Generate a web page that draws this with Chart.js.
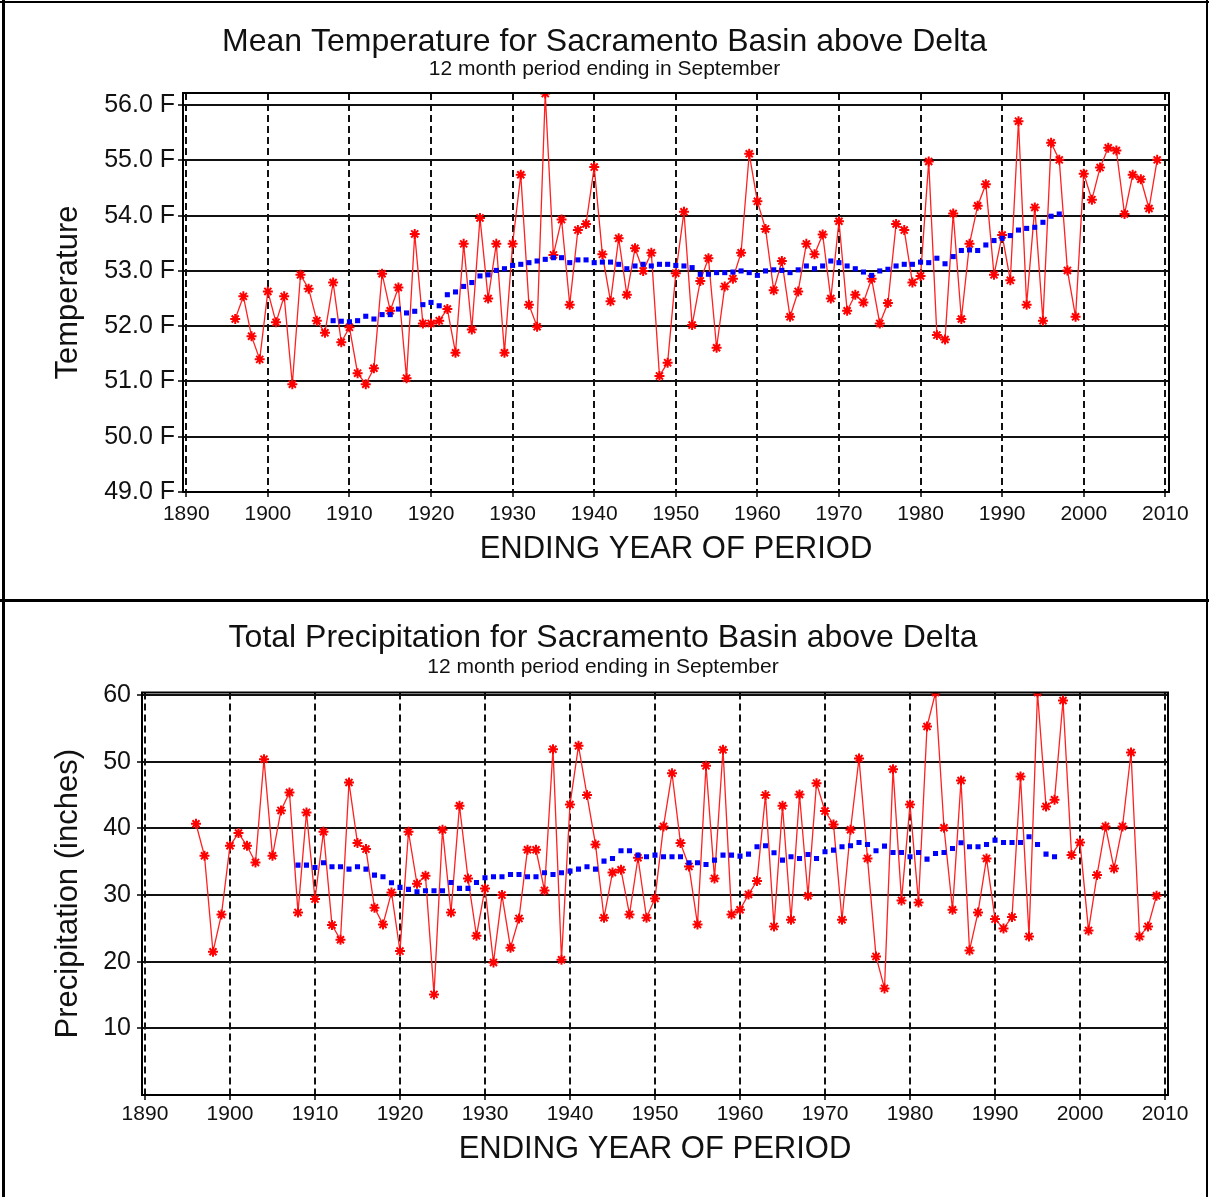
<!DOCTYPE html>
<html><head><meta charset="utf-8">
<script src="https://cdn.jsdelivr.net/npm/chart.js@4.4.1/dist/chart.umd.min.js"></script>
<style>
html,body{margin:0;padding:0;background:#fff;}
#wrap{position:relative;width:1209px;height:1197px;overflow:hidden;background:#fff;}
canvas{position:absolute;left:0;}
#cT{top:0}
#cB{top:602px}
.frame{position:absolute;background:#000;}
</style></head><body>
<div id="wrap">
<canvas id="cT" width="1209" height="600"></canvas>
<canvas id="cB" width="1209" height="595"></canvas>
<div class="frame" style="left:0;top:1px;width:1209px;height:2px"></div>
<div class="frame" style="left:2px;top:0;width:3px;height:1197px"></div>
<div class="frame" style="left:1206px;top:0;width:2px;height:1197px"></div>
<div class="frame" style="left:0;top:599px;width:1209px;height:3px"></div>
</div>
<script>
// ---- data ----
const years = [1896,1897,1898,1899,1900,1901,1902,1903,1904,1905,1906,1907,1908,1909,1910,1911,1912,1913,1914,1915,1916,1917,1918,1919,1920,1921,1922,1923,1924,1925,1926,1927,1928,1929,1930,1931,1932,1933,1934,1935,1936,1937,1938,1939,1940,1941,1942,1943,1944,1945,1946,1947,1948,1949,1950,1951,1952,1953,1954,1955,1956,1957,1958,1959,1960,1961,1962,1963,1964,1965,1966,1967,1968,1969,1970,1971,1972,1973,1974,1975,1976,1977,1978,1979,1980,1981,1982,1983,1984,1985,1986,1987,1988,1989,1990,1991,1992,1993,1994,1995,1996,1997,1998,1999,2000,2001,2002,2003,2004,2005,2006,2007,2008,2009];

const meanTemp = [52.13,52.54,51.82,51.40,52.63,52.07,52.54,50.95,52.93,52.68,52.10,51.88,52.79,51.71,51.98,51.15,50.95,51.24,52.95,52.28,52.70,51.06,53.67,52.05,52.05,52.10,52.31,51.52,53.49,51.94,53.96,52.50,53.49,51.52,53.49,54.74,52.39,51.99,56.21,53.29,53.93,52.39,53.74,53.85,54.88,53.30,52.45,53.59,52.57,53.41,53.00,53.33,51.10,51.34,52.96,54.07,52.02,52.82,53.23,51.61,52.72,52.86,53.33,55.12,54.26,53.76,52.65,53.18,52.17,52.63,53.49,53.30,53.66,52.50,53.90,52.28,52.57,52.43,52.86,52.05,52.42,53.85,53.74,52.79,52.91,54.98,51.84,51.76,54.04,52.13,53.49,54.18,54.57,52.93,53.65,52.83,55.71,52.39,54.15,52.10,55.32,55.01,53.01,52.17,54.76,54.29,54.87,55.23,55.18,54.03,54.74,54.66,54.13,55.01];

const avgYears = years.slice(12, 102); // 1908 .. 1997

const meanTempAvg = [52.10,52.09,52.08,52.10,52.18,52.13,52.21,52.21,52.31,52.24,52.27,52.39,52.43,52.37,52.57,52.62,52.72,52.79,52.91,52.93,53.01,53.04,53.10,53.12,53.15,53.18,53.21,53.24,53.24,53.15,53.20,53.20,53.15,53.16,53.16,53.12,53.04,53.09,53.12,53.09,53.12,53.12,53.10,53.09,53.06,52.94,52.94,52.97,52.97,52.98,53.00,52.97,52.92,53.00,53.02,53.01,52.97,53.02,53.09,53.04,53.09,53.18,53.15,53.09,53.04,52.98,52.92,53.00,53.03,53.09,53.12,53.12,53.16,53.15,53.23,53.13,53.26,53.37,53.38,53.37,53.47,53.55,53.59,53.64,53.74,53.77,53.79,53.88,53.99,54.03];

const totalPrecip = [40.7,35.9,21.5,27.1,37.4,39.3,37.4,34.9,50.4,35.9,42.7,45.4,27.4,42.4,29.4,39.5,25.5,23.3,46.9,37.8,36.9,28.1,25.6,30.4,21.6,39.5,31.7,32.9,15.1,39.8,27.4,43.4,32.5,23.9,31.0,19.9,30.0,22.1,26.5,36.8,36.8,30.7,51.9,20.3,43.6,52.4,45.0,37.6,26.6,33.4,33.8,27.1,35.6,26.6,29.5,40.3,48.3,37.8,34.3,25.6,49.4,32.5,51.8,27.1,27.8,30.1,32.1,45.0,25.3,43.4,26.3,45.1,29.9,46.8,42.6,40.6,26.3,39.8,50.5,35.5,20.8,16.0,48.9,29.2,43.6,28.9,55.3,60.4,40.1,27.8,47.2,21.7,27.4,35.5,26.4,25.0,26.7,47.8,23.8,60.4,43.3,44.3,59.2,36.0,37.9,24.7,33.0,40.3,34.0,40.3,51.4,23.8,25.3,29.9];

const totalPrecipAvg = [34.5,34.5,34.15,34.85,34.25,34.25,33.9,34.25,33.9,33.0,32.75,31.85,31.15,30.85,30.5,30.65,30.65,30.65,31.9,31.0,31.0,31.9,32.6,32.75,32.75,33.1,33.1,32.75,32.75,33.35,33.1,33.35,33.6,33.9,34.25,33.9,35.1,35.5,36.65,36.65,36.0,35.75,36.0,35.75,35.75,35.75,34.85,34.85,34.6,35.25,36.0,36.0,35.85,36.15,37.25,37.4,36.35,35.25,35.75,35.5,36.1,35.5,36.5,36.75,37.25,37.4,37.9,37.6,36.65,37.35,36.4,36.4,35.75,36.4,35.4,36.25,36.4,37.0,37.85,37.25,37.25,37.6,38.25,37.9,37.9,37.9,38.75,37.6,36.15,35.75];

const tempTicks = [49, 50, 51, 52, 53, 54, 55, 56];
const precipTicks = [10, 20, 30, 40, 50, 60];
const yearTicks = [1890, 1900, 1910, 1920, 1930, 1940, 1950, 1960, 1970, 1980, 1990, 2000, 2010];

// ---- helpers ----
const FONT = "'Liberation Sans', Arial, Helvetica, sans-serif";
const TXT = '#111';
function pts(xs, ys) { return xs.map((x, i) => ({x: x, y: ys[i]})); }

const plotFrame = {
  id: 'plotFrame',
  afterDraw(chart) {
    const a = chart.chartArea, ctx = chart.ctx;
    ctx.save();
    ctx.strokeStyle = '#000';
    ctx.lineWidth = 2;
    ctx.strokeRect(a.left, a.top, a.right - a.left, a.bottom - a.top);
    ctx.restore();
  }
};

function build(canvasId, cfg) {
  const red = {
    label: cfg.redLabel,
    data: pts(years, cfg.values),
    borderColor: '#ff2020',
    borderWidth: 1.3,
    pointStyle: 'star',
    pointRadius: 5,
    pointBorderWidth: 2,
    pointBorderColor: '#ff0000',
    pointBackgroundColor: '#ff0000',
    tension: 0,
    clip: 0,
    order: 1
  };
  const blue = {
    label: cfg.blueLabel,
    data: pts(avgYears, cfg.avg),
    showLine: false,
    pointStyle: 'rect',
    pointRadius: 3.6,
    pointBorderWidth: 0,
    pointBackgroundColor: '#0000ff',
    borderColor: '#0000ff',
    clip: 0,
    order: 0
  };
  return new Chart(document.getElementById(canvasId), {
    type: 'line',
    data: { datasets: [red, blue] },
    options: {
      responsive: false,
      animation: false,
      events: [],
      layout: { padding: cfg.pad },
      plugins: {
        legend: { display: false },
        tooltip: { enabled: false },
        title: {
          display: true, text: cfg.title, color: TXT,
          font: { family: FONT, size: 32, weight: 'normal', lineHeight: 1 },
          padding: { top: cfg.titleTop, bottom: 0 }
        },
        subtitle: {
          display: true, text: '12 month period ending in September', color: TXT,
          font: { family: FONT, size: 21, weight: 'normal', lineHeight: 1 },
          padding: { top: cfg.subTop, bottom: cfg.subBottom }
        }
      },
      scales: {
        x: {
          type: 'linear', min: cfg.xMin, max: cfg.xMax,
          afterFit: s => { s.height = cfg.xH; },
          afterBuildTicks: s => { s.ticks = yearTicks.map(v => ({value: v})); },
          ticks: {
            color: TXT, font: { family: FONT, size: 21 }, padding: cfg.xTickPad,
            maxRotation: 0, autoSkip: false, includeBounds: false,
            callback: v => String(v)
          },
          grid: { color: '#111', lineWidth: 2, tickLength: 5, tickColor: '#000', tickWidth: 1.5 },
          border: { display: true, color: '#000', width: 2, dash: [7, 4] },
          title: {
            display: true, text: 'ENDING YEAR OF PERIOD', color: TXT,
            font: { family: FONT, size: 31, lineHeight: 1 },
            padding: { top: 0, bottom: cfg.xTitleBottom }
          }
        },
        y: {
          type: 'linear', min: cfg.yMin, max: cfg.yMax,
          afterFit: s => { s.width = cfg.yW; },
          afterBuildTicks: s => { s.ticks = cfg.yTicks.map(v => ({value: v})); },
          ticks: {
            color: TXT, font: { family: FONT, size: 25 }, padding: cfg.yTickPad,
            includeBounds: false, autoSkip: false,
            callback: cfg.yFmt
          },
          grid: { color: '#111', lineWidth: 2, tickLength: 5, tickColor: '#000', tickWidth: 1.5 },
          border: { display: true, color: '#000', width: 2 },
          title: {
            display: true, text: cfg.yTitle, color: TXT,
            font: { family: FONT, size: 31, lineHeight: 1 },
            padding: { top: cfg.yTitleTop, bottom: 0 }
          }
        }
      }
    },
    plugins: [plotFrame]
  });
}

build('cT', {
  title: 'Mean Temperature for Sacramento Basin above Delta',
  redLabel: 'Mean Temperature', blueLabel: 'Moving average',
  values: meanTemp, avg: meanTempAvg,
  pad: { left: 40, right: 40, top: 0, bottom: 0 },
  titleTop: 26, subTop: 1, subBottom: 13,
  xMin: 1889.6, xMax: 2010.45, xH: 108, xTickPad: 5, xTitleBottom: 35,
  yMin: 49, yMax: 56.22, yW: 143, yTickPad: 3, yTicks: tempTicks,
  yFmt: v => v.toFixed(1) + ' F',
  yTitle: 'Temperature', yTitleTop: 12.5
});

build('cB', {
  title: 'Total Precipitation for Sacramento Basin above Delta',
  redLabel: 'Total Precipitation', blueLabel: 'Moving average',
  values: totalPrecip, avg: totalPrecipAvg,
  pad: { left: 38, right: 41, top: 0, bottom: 0 },
  titleTop: 20.5, subTop: 2, subBottom: 15,
  xMin: 1889.65, xMax: 2010.35, xH: 102, xTickPad: 2, xTitleBottom: 32.5,
  yMin: 0, yMax: 60.4, yW: 104, yTickPad: 6, yTicks: precipTicks,
  yFmt: v => String(v),
  yTitle: 'Precipitation (inches)', yTitleTop: 14.5
});
</script>
</body></html>
